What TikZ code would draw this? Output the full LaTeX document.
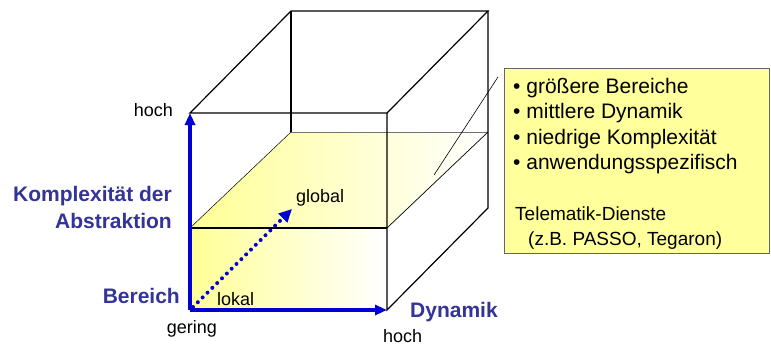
\documentclass[tikz,border=0pt]{standalone}
\usepackage{fontspec}
\setmainfont{Liberation Sans}
\usepackage{tikz}
\usetikzlibrary{arrows.meta, positioning, calc}
\usepackage{xcolor}
\definecolor{axisblue}{RGB}{0,0,210}
\definecolor{labelblue}{RGB}{51,51,153}
\definecolor{slabyellow}{RGB}{255,255,150}
\definecolor{boxyellow}{RGB}{255,255,155}
\tikzset{
  edge/.style={draw=black, line width=1.2pt},
  thinedge/.style={draw=black, line width=0.7pt},
  axis/.style={
    draw=axisblue, line width=4pt,
    -{Triangle[length=12pt,width=10pt]}
  },
  dotarrow/.style={
    draw=axisblue, line width=4pt, line cap=round,
    dash pattern=on 0pt off 6.8pt,
    -{Triangle[length=13pt,width=12pt]}
  },
  axislabel/.style={
    text=labelblue, inner sep=0pt,
    font=\fontsize{21}{26.6}\selectfont\bfseries
  },
  tick/.style={inner sep=0pt, font=\fontsize{18}{22}\selectfont},
  infobox/.style={
    rectangle, draw=black!60, line width=0.9pt, fill=boxyellow,
    minimum width=265pt, minimum height=185pt, inner sep=0pt
  },
  infoline/.style={inner sep=0pt, anchor=base west,
    font=\fontsize{21}{25}\selectfont},
  infonote/.style={inner sep=0pt, anchor=base west,
    font=\fontsize{19}{25}\selectfont}
}

\begin{document}
\begin{tikzpicture}[x=1pt, y=-1pt]
  \useasboundingbox (0,0) rectangle (771,345);

  % cube corners
  \coordinate (flb) at (190,310);
  \coordinate (frb) at (387,310);
  \coordinate (flt) at (190,113);
  \coordinate (frt) at (387,113);
  \coordinate (blt) at (291,11);
  \coordinate (brt) at (488,11);
  \coordinate (brb) at (488,208);
  % slab corners
  \coordinate (sfl) at (190,228);
  \coordinate (sfr) at (387,228);
  \coordinate (sbl) at (291,132);
  \coordinate (sbr) at (488,132);

  % yellow slab
  \shade[left color=slabyellow, right color=white] (flb) rectangle (sfr);
  \shade[left color=slabyellow, right color=white]
    (sfl) -- (sbl) -- (sbr) -- (sfr) -- cycle;
  \draw[draw=black, line width=0.5pt] (sfl) -- (sbl);
  \draw[draw=black!55, line width=0.8pt] (sbl) -- (sbr);
  \draw[thinedge] (sfr) -- (sbr);

  % cube edges
  \draw[edge] (flt) -- (frt) -- (brt) -- (blt) -- cycle;
  \draw[edge] (blt) -- (sbl);
  \draw[edge] (brt) -- (brb) -- (frb) -- (frt);
  \draw[draw=black, line width=2pt] (sfl) -- (sfr);

  % info box
  \node[infobox, anchor=north west] (info) at (504,68) {};
  \coordinate (callout) at (434,175);
  \coordinate (calloutend) at (498,77);
  \draw[draw=black, line width=0.6pt] (callout) -- (calloutend);
  \node[infoline] (l1) at (513,93)    {\textbullet\ größere Bereiche};
  \node[infoline] (l2) at (513,118.5) {\textbullet\ mittlere Dynamik};
  \node[infoline] (l3) at (513,144)   {\textbullet\ niedrige Komplexität};
  \node[infoline] (l4) at (513,169.5) {\textbullet\ anwendungsspezifisch};
  \node[infonote] (n1) at (515,220)   {Telematik-Dienste};
  \node[infonote] (n2) at (528,245)   {(z.B. PASSO, Tegaron)};

  % axes
  \draw[axis] (flb) -- (flt);
  \draw[axis] (flb) -- (frb);
  \coordinate (dstart) at (193,307);
  \coordinate (dend) at (292,209);
  \draw[dotarrow] (dstart) -- (dend);

  % labels
  \node[tick, anchor=base east] (hochz) at (173,116.5) {hoch};
  \node[tick, anchor=base] (gering) at (192,333) {gering};
  \node[tick, anchor=base west] (hochx) at (383,342) {hoch};
  \node[tick, anchor=base west] (global) at (296,202) {global};
  \node[tick, anchor=base west] (lokal) at (217,305) {lokal};
  \node[axislabel, anchor=base east, align=right] (kompl) at (172,228.3)
    {Komplexität der\\Abstraktion};
  \node[axislabel, anchor=base east] (bereich) at (180,303.3) {Bereich};
  \node[axislabel, anchor=base west] (dynamik) at (410,317) {Dynamik};
\end{tikzpicture}
\end{document}
